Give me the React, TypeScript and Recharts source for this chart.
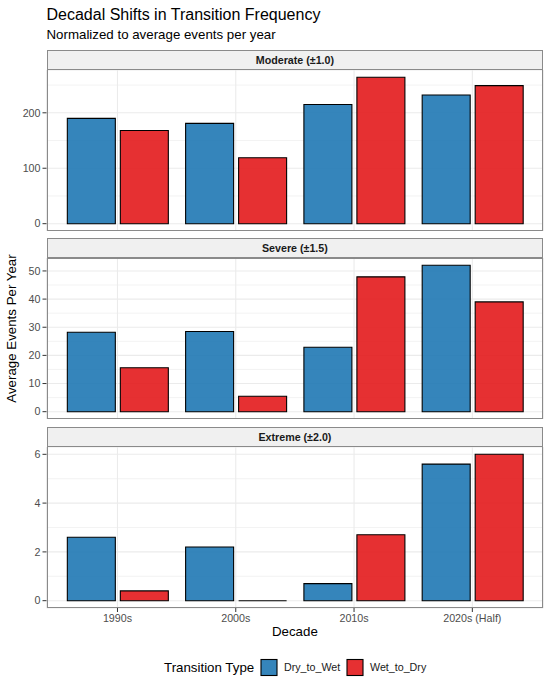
import React from 'react';
import { BarChart, Bar, XAxis, YAxis, CartesianGrid } from 'recharts';

// ---------- data ----------
const decades = ['1990s', '2000s', '2010s', '2020s (Half)'];

const moderateDryToWet = [190, 181, 215, 232];
const moderateWetToDry = [168, 119, 264, 249];

const severeDryToWet = [28.2, 28.5, 22.9, 52.0];
const severeWetToDry = [15.6, 5.5, 47.9, 39.0];

const extremeDryToWet = [2.6, 2.2, 0.7, 5.6];
const extremeWetToDry = [0.4, 0.0, 2.7, 6.0];

const moderateTicks = [0, 100, 200];
const moderateMinor = [50, 150, 250];
const severeTicks = [0, 10, 20, 30, 40, 50];
const severeMinor = [5, 15, 25, 35, 45];
const extremeTicks = [0, 2, 4, 6];
const extremeMinor = [1, 3, 5];

const panelTitles = ['Moderate (±1.0)', 'Severe (±1.5)', 'Extreme (±2.0)'];
const seriesNames = ['Dry_to_Wet', 'Wet_to_Dry'];
const seriesColors = ['#1F78B4', '#E31A1C'];

// ---------- layout ----------
const FONT = '"Liberation Sans", Arial, Helvetica, sans-serif';
const W = 550;
const H = 683;
const PLOT_LEFT = 46.5;
const PLOT_RIGHT = 543.3;
const PLOT_W = PLOT_RIGHT - PLOT_LEFT;
const STRIP_H = 20;
const PLOT_H = 161;
const STRIP_TOPS = [49.5, 238, 426.5];
const X_AXIS_H = 22;
const BAND_PAD = PLOT_W / 4.2 * 0.1;

function buildRows(a: number[], b: number[]) {
  return decades.map((d, i) => ({ decade: d, Dry_to_Wet: a[i], Wet_to_Dry: b[i] }));
}

const panels = [
  { rows: buildRows(moderateDryToWet, moderateWetToDry), ticks: moderateTicks, minor: moderateMinor },
  { rows: buildRows(severeDryToWet, severeWetToDry), ticks: severeTicks, minor: severeMinor },
  { rows: buildRows(extremeDryToWet, extremeWetToDry), ticks: extremeTicks, minor: extremeMinor },
];

function domainFor(a: number[], b: number[]): [number, number] {
  const mx = Math.max(...a, ...b);
  return [-mx * 0.05, mx * 1.05];
}
const domains = [
  domainFor(moderateDryToWet, moderateWetToDry),
  domainFor(severeDryToWet, severeWetToDry),
  domainFor(extremeDryToWet, extremeWetToDry),
];

const BarShape = (props: any) => {
  const { x, y, width, height, fill } = props;
  if (x == null || y == null || width == null) return null;
  const hh = Number(height) || 0;
  const top = hh < 0 ? y + hh : y;
  const h = Math.abs(hh);
  const d = `M${x},${top}H${x + width}V${top + h}H${x}Z`;
  return (
    <path
      d={d}
      fill={fill}
      fillOpacity={0.9}
      stroke="#000000"
      strokeWidth={1.1}
    />
  );
};

function Panel({ idx }: { idx: number }) {
  const p = panels[idx];
  const last = idx === panels.length - 1;
  const top = STRIP_TOPS[idx] + STRIP_H;
  return (
    <div style={{ position: 'absolute', left: 0, top }}>
      <BarChart
        width={W}
        height={PLOT_H + (last ? X_AXIS_H : 0)}
        data={p.rows}
        margin={{ top: 0, right: W - PLOT_RIGHT, bottom: 0, left: 0 }}
        barSize={48}
        barGap={5}
      >
        <CartesianGrid
          horizontalValues={p.minor}
          vertical={false}
          stroke="#EBEBEB"
          strokeWidth={0.6}
          syncWithTicks
        />
        <CartesianGrid stroke="#EBEBEB" strokeWidth={1.1} />
        <XAxis
          dataKey="decade"
          type="category"
          hide={!last}
          height={X_AXIS_H}
          padding={{ left: BAND_PAD, right: BAND_PAD }}
          axisLine={false}
          tickLine={{ stroke: '#333333', strokeWidth: 1 }}
          tickSize={4}
          tickMargin={2}
          interval={0}
          tick={{ fill: '#4D4D4D', fontSize: 10.7, fontFamily: FONT }}
        />
        <YAxis
          type="number"
          width={PLOT_LEFT}
          domain={domains[idx]}
          allowDataOverflow
          ticks={p.ticks}
          interval={0}
          axisLine={false}
          tickLine={{ stroke: '#333333', strokeWidth: 1 }}
          tickSize={4}
          tickMargin={2}
          tick={{ fill: '#4D4D4D', fontSize: 10.7, fontFamily: FONT }}
        />
        {seriesNames.map((s, i) => (
          <Bar
            key={s}
            dataKey={s}
            fill={seriesColors[i]}
            shape={BarShape}
            isAnimationActive={false}
          />
        ))}
      </BarChart>
    </div>
  );
}

export default function App() {
  return (
    <div
      style={{
        position: 'absolute',
        left: 0,
        top: 0,
        width: W,
        height: H,
        background: '#FFFFFF',
        fontFamily: FONT,
        overflow: 'hidden',
      }}
    >
      {panels.map((_, i) => (
        <Panel key={i} idx={i} />
      ))}

      {STRIP_TOPS.map((t, i) => (
        <React.Fragment key={i}>
          <div
            style={{
              position: 'absolute',
              left: PLOT_LEFT,
              top: t,
              width: PLOT_W,
              height: STRIP_H,
              boxSizing: 'border-box',
              background: '#F0F0F0',
              border: '1px solid #8A8A8A',
              display: 'flex',
              alignItems: 'center',
              justifyContent: 'center',
              fontSize: 10.7,
              fontWeight: 'bold',
              color: '#1A1A1A',
            }}
          >
            {panelTitles[i]}
          </div>
          <div
            style={{
              position: 'absolute',
              left: PLOT_LEFT,
              top: t + STRIP_H - 0.5,
              width: PLOT_W,
              height: PLOT_H + 0.5,
              boxSizing: 'border-box',
              border: '1px solid #8A8A8A',
              pointerEvents: 'none',
            }}
          />
        </React.Fragment>
      ))}

      <svg
        width={W}
        height={H}
        style={{ position: 'absolute', left: 0, top: 0, pointerEvents: 'none' }}
        fontFamily={FONT}
      >
        <text x={PLOT_LEFT} y={20} fontSize={16} fill="#000000">
          Decadal Shifts in Transition Frequency
        </text>
        <text x={PLOT_LEFT} y={39.3} fontSize={13.3} fill="#000000">
          Normalized to average events per year
        </text>
        <text
          x={16}
          y={328.5}
          fontSize={13.3}
          fill="#000000"
          textAnchor="middle"
          transform="rotate(-90, 16, 328.5)"
        >
          Average Events Per Year
        </text>
        <text x={(PLOT_LEFT + PLOT_RIGHT) / 2} y={636} fontSize={13.3} fill="#000000" textAnchor="middle">
          Decade
        </text>

        <text x={164} y={671.5} fontSize={13.3} fill="#000000">
          Transition Type
        </text>
        <rect x={261} y={659.5} width={16} height={16} fill={seriesColors[0]} fillOpacity={0.9} stroke="#000" strokeWidth={1.1} />
        <text x={284} y={671} fontSize={10.7} fill="#1A1A1A">
          {seriesNames[0]}
        </text>
        <rect x={347} y={659.5} width={16} height={16} fill={seriesColors[1]} fillOpacity={0.9} stroke="#000" strokeWidth={1.1} />
        <text x={370} y={671} fontSize={10.7} fill="#1A1A1A">
          {seriesNames[1]}
        </text>
      </svg>
    </div>
  );
}
